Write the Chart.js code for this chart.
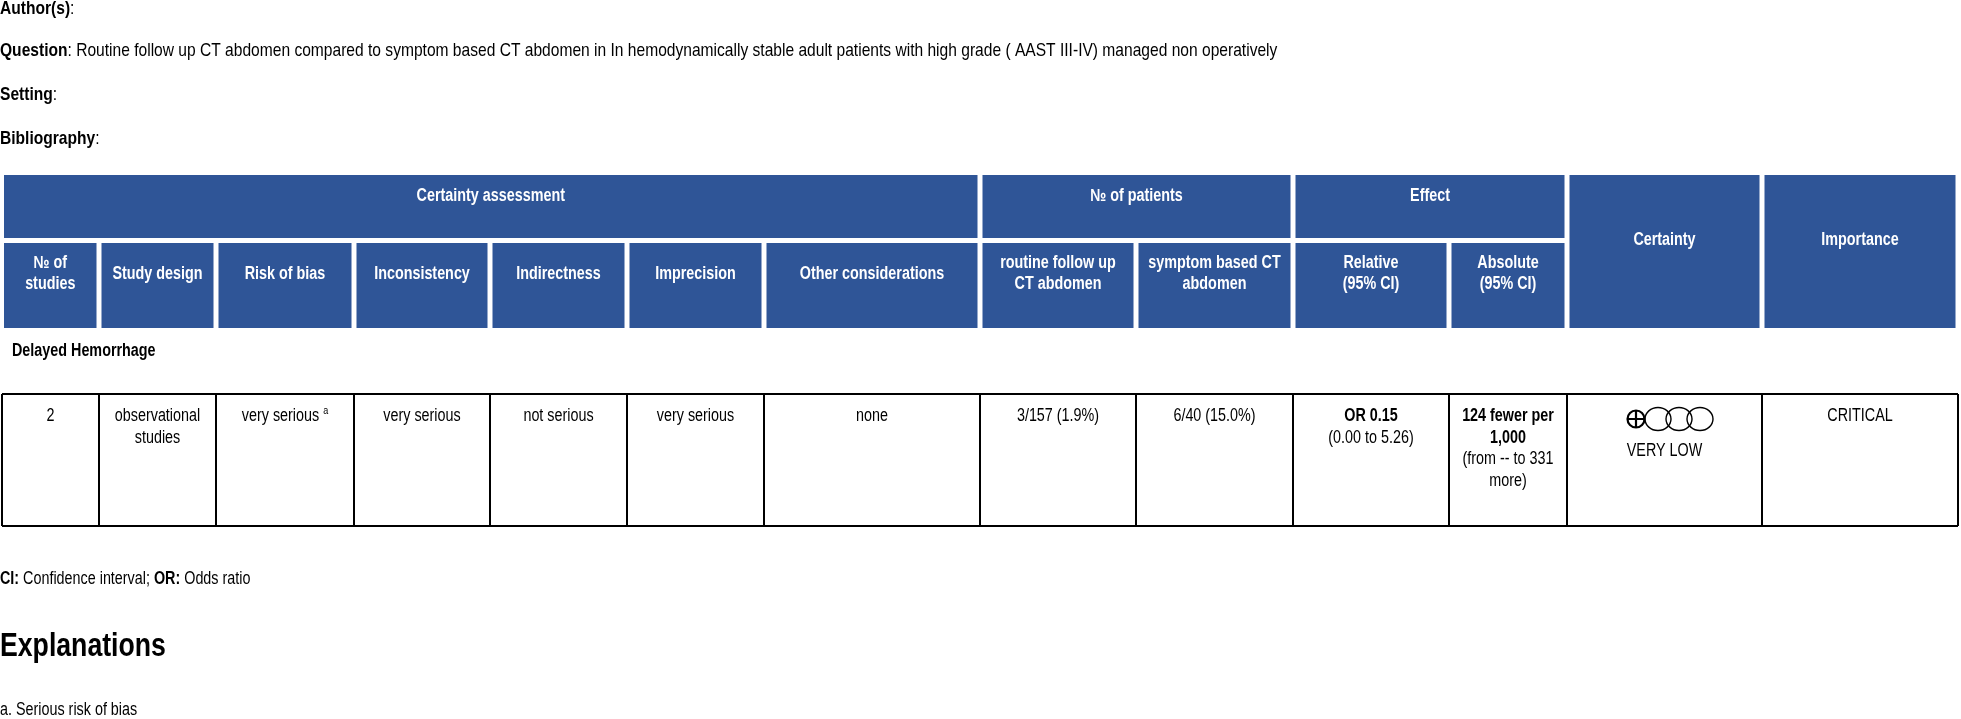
<!DOCTYPE html>
<html>
<head>
<meta charset="utf-8">
<script src="https://cdn.jsdelivr.net/npm/chart.js@4.4.1/dist/chart.umd.min.js"></script>
<style>
html,body{margin:0;padding:0;background:#fff;}
#wrap{width:1961px;height:719px;position:relative;}
canvas{display:block;}
</style>
</head>
<body>
<div id="wrap"><canvas id="c" width="1961" height="719"></canvas></div>
<script>
// ---------------- DATA ----------------
const metaLabels = ['Author(s)', 'Question', 'Setting', 'Bibliography'];
const metaValues = ['', 'Routine follow up CT abdomen compared to symptom based CT abdomen in In hemodynamically stable adult patients with high grade ( AAST III-IV) managed non operatively', '', ''];

const headerGroups = ['Certainty assessment', '№ of patients', 'Effect', 'Certainty', 'Importance'];
const groupSpans = [7, 2, 2, 1, 1];
const columnHeaders = [
  ['№ of', 'studies'], ['Study design'], ['Risk of bias'], ['Inconsistency'], ['Indirectness'],
  ['Imprecision'], ['Other considerations'], ['routine follow up', 'CT abdomen'],
  ['symptom based CT', 'abdomen'], ['Relative', '(95% CI)'], ['Absolute', '(95% CI)']
];

const outcomeLabel = 'Delayed Hemorrhage';
const numStudies = 2;
const studyDesign = ['observational', 'studies'];
const riskOfBias = 'very serious';
const riskOfBiasNote = 'a';
const inconsistency = 'very serious';
const indirectness = 'not serious';
const imprecision = 'very serious';
const otherConsiderations = 'none';
const routineEvents = [3, 157];
const symptomEvents = [6, 40];
const oddsRatio = ['OR', 0.15];
const oddsRatioCI = [0.00, 5.26];
const absoluteEffect = ['124 fewer per', '1,000'];
const absoluteCI = ['(from -- to 331', 'more)'];
const certaintyScore = 1;
const certaintyMax = 4;
const certaintyLabel = 'VERY LOW';
const importance = 'CRITICAL';

const abbreviations = [['CI', 'Confidence interval'], ['OR', 'Odds ratio']];
const explanationsTitle = 'Explanations';
const explanations = ['Serious risk of bias'];

// ---------------- LAYOUT ----------------
const gridX = [2, 99, 216, 354, 490, 627, 764, 980, 1136, 1293, 1449, 1567, 1762, 1958];
const HEAD_BLUE = '#2F5597';

function detectNarrow() {
  const c = document.createElement('canvas').getContext('2d');
  c.font = '40px monospace';
  const a = c.measureText('mmmmmmiiiiWWW').width;
  c.font = '40px "Liberation Sans Narrow", monospace';
  const b = c.measureText('mmmmmmiiiiWWW').width;
  return Math.abs(a - b) > 1;
}
const HAS_NARROW = detectNarrow();
const FAM = HAS_NARROW ? '"Liberation Sans Narrow", "Liberation Sans", Arial, sans-serif' : '"Liberation Sans", Arial, sans-serif';
const SX = HAS_NARROW ? 1 : 0.82;

function fnt(size, bold) { return (bold ? 'bold ' : '') + size + 'px ' + FAM; }

function drawSegs(ctx, segs, x, y, align, size, color) {
  ctx.save();
  ctx.fillStyle = color || '#000';
  ctx.textBaseline = 'middle';
  ctx.textAlign = 'left';
  const widths = segs.map(s => {
    const sz = s.sup ? Math.round(size * 0.6) : size;
    ctx.font = fnt(sz, s.b);
    return ctx.measureText(s.t).width * SX;
  });
  const total = widths.reduce((p, q) => p + q, 0);
  let sx = align === 'center' ? x - total / 2 : (align === 'right' ? x - total : x);
  segs.forEach((s, i) => {
    const sz = s.sup ? Math.round(size * 0.6) : size;
    ctx.font = fnt(sz, s.b);
    ctx.save();
    ctx.translate(sx, y + (s.sup ? -size * 0.3 : 0));
    ctx.scale(SX, 1);
    ctx.fillText(s.t, 0, 0);
    ctx.restore();
    sx += widths[i];
  });
  ctx.restore();
}

const tablePlugin = {
  id: 'gradeTable',
  afterDraw(chart) {
    const ctx = chart.ctx;
    const xs = chart.scales.x, ys = chart.scales.y;
    const X = v => xs.getPixelForValue(v);
    const Y = v => ys.getPixelForValue(v);
    const colMid = i => (X(gridX[i]) + X(gridX[i + 1])) / 2;

    // meta lines
    const metaY = [9, 51, 95, 139];
    metaLabels.forEach((lab, i) => {
      const segs = [{ t: lab, b: true }, { t: ':' + (metaValues[i] ? ' ' + metaValues[i] : ''), b: false }];
      drawSegs(ctx, segs, X(0), Y(metaY[i]), 'left', 19);
    });

    // header backgrounds
    const g = 2.5;
    const r1 = [175, 238], r2 = [243, 328];
    const HF = 17.5;
    let c0 = 0;
    groupSpans.forEach((span, gi) => {
      const x0 = X(gridX[c0] + (c0 === 0 ? 2 : g)), x1 = X(gridX[c0 + span] - g);
      const yBottom = span === 1 && gi >= 3 ? r2[1] : r1[1];
      ctx.fillStyle = HEAD_BLUE;
      ctx.fillRect(x0, Y(r1[0]), x1 - x0, Y(yBottom) - Y(r1[0]));
      const midX = (x0 + x1) / 2;
      const midY = yBottom === r2[1] ? 240 : 196;
      drawSegs(ctx, [{ t: headerGroups[gi], b: true }], midX, Y(midY), 'center', HF, '#fff');
      c0 += span;
    });
    columnHeaders.forEach((lines, i) => {
      const x0 = X(gridX[i] + (i === 0 ? 2 : g)), x1 = X(gridX[i + 1] - g);
      ctx.fillStyle = HEAD_BLUE;
      ctx.fillRect(x0, Y(r2[0]), x1 - x0, Y(r2[1]) - Y(r2[0]));
      const lh = 21, cy = 274;
      lines.forEach((ln, k) => {
        const yy = cy + (k - (lines.length - 1) / 2) * lh;
        drawSegs(ctx, [{ t: ln, b: true }], (x0 + x1) / 2, Y(yy), 'center', HF, '#fff');
      });
    });

    // outcome label
    drawSegs(ctx, [{ t: outcomeLabel, b: true }], X(12), Y(351), 'left', 17.5);

    // data row borders
    const dTop = 394, dBot = 526;
    ctx.save();
    ctx.strokeStyle = '#000';
    ctx.lineWidth = 2;
    ctx.beginPath();
    ctx.moveTo(X(gridX[0]), Y(dTop)); ctx.lineTo(X(gridX[gridX.length - 1]), Y(dTop));
    ctx.moveTo(X(gridX[0]), Y(dBot)); ctx.lineTo(X(gridX[gridX.length - 1]), Y(dBot));
    gridX.forEach(gx => { ctx.moveTo(X(gx), Y(dTop)); ctx.lineTo(X(gx), Y(dBot)); });
    ctx.stroke();
    ctx.restore();

    const pct = e => (e[0] / e[1] * 100).toFixed(1) + '%';
    const cells = [
      [[{ t: String(numStudies) }]],
      studyDesign.map(t => [{ t }]),
      [[{ t: riskOfBias + ' ' }, { t: riskOfBiasNote, sup: true }]],
      [[{ t: inconsistency }]],
      [[{ t: indirectness }]],
      [[{ t: imprecision }]],
      [[{ t: otherConsiderations }]],
      [[{ t: routineEvents[0] + '/' + routineEvents[1] + ' (' + pct(routineEvents) + ')' }]],
      [[{ t: symptomEvents[0] + '/' + symptomEvents[1] + ' (' + pct(symptomEvents) + ')' }]],
      [[{ t: oddsRatio[0] + ' ' + oddsRatio[1].toFixed(2), b: true }], [{ t: '(' + oddsRatioCI[0].toFixed(2) + ' to ' + oddsRatioCI[1].toFixed(2) + ')' }]],
      absoluteEffect.map(t => [{ t, b: true }]).concat(absoluteCI.map(t => [{ t }])),
      null,
      [[{ t: importance }]]
    ];
    const DF = 17.5, firstY = 416, lh = 21.7;
    cells.forEach((lines, i) => {
      if (!lines) return;
      lines.forEach((segs, k) => drawSegs(ctx, segs, colMid(i), Y(firstY + k * lh), 'center', DF));
    });

    // certainty symbols
    ctx.save();
    ctx.strokeStyle = '#000';
    const symY = Y(419);
    let cx = X(1636);
    for (let k = 0; k < certaintyMax; k++) {
      ctx.beginPath();
      if (k < certaintyScore) {
        ctx.lineWidth = 2.2;
        const r = 8.5;
        ctx.arc(cx, symY, r, 0, Math.PI * 2);
        ctx.moveTo(cx - r, symY); ctx.lineTo(cx + r, symY);
        ctx.moveTo(cx, symY - r); ctx.lineTo(cx, symY + r);
        ctx.stroke();
        cx += r + 13.5;
      } else {
        ctx.lineWidth = 1.4;
        ctx.ellipse(cx, symY, 13, 11.5, 0, 0, Math.PI * 2);
        ctx.stroke();
        cx += 21;
      }
    }
    ctx.restore();
    drawSegs(ctx, [{ t: certaintyLabel }], colMid(11), Y(451), 'center', DF);

    // footer
    const abSegs = [];
    abbreviations.forEach((ab, i) => {
      abSegs.push({ t: ab[0] + ':', b: true });
      abSegs.push({ t: ' ' + ab[1] + (i < abbreviations.length - 1 ? '; ' : '') });
    });
    drawSegs(ctx, abSegs, X(0), Y(579), 'left', 17.5);
    drawSegs(ctx, [{ t: explanationsTitle, b: true }], X(0), Y(647), 'left', 32.5);
    explanations.forEach((e, i) => {
      drawSegs(ctx, [{ t: String.fromCharCode(97 + i) + '. ' + e }], X(0), Y(710 + i * 22), 'left', 17.5);
    });
  }
};

new Chart(document.getElementById('c'), {
  type: 'scatter',
  data: { datasets: [{ data: [], showLine: false }] },
  options: {
    responsive: false,
    animation: false,
    layout: { padding: 0 },
    plugins: { legend: { display: false }, tooltip: { enabled: false } },
    scales: {
      x: { type: 'linear', min: 0, max: 1961, display: false },
      y: { type: 'linear', min: 0, max: 719, reverse: true, display: false }
    }
  },
  plugins: [tablePlugin]
});
</script>
</body>
</html>
